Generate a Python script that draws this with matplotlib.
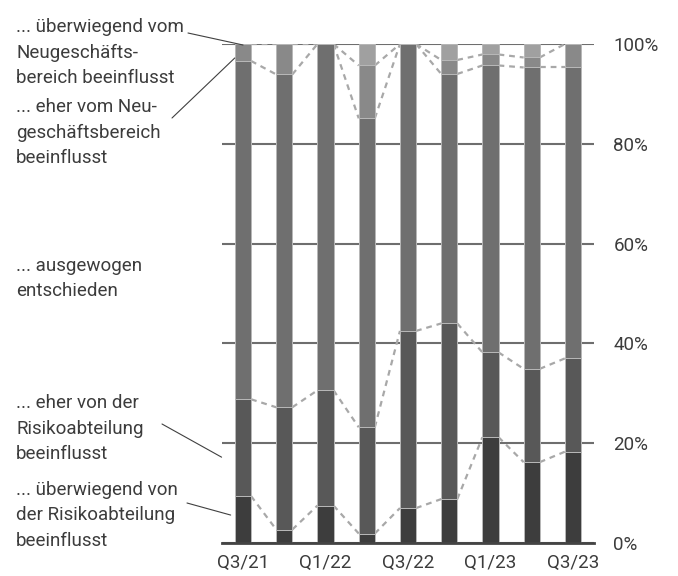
import matplotlib.pyplot as plt
import numpy as np

quarters = ['Q3/21', 'Q4/21', 'Q1/22', 'Q2/22', 'Q3/22', 'Q4/22', 'Q1/23', 'Q2/23', 'Q3/23']
shown_ticks = ['Q3/21', 'Q1/22', 'Q3/22', 'Q1/23', 'Q3/23']

# shares in percent, bottom to top
risk_strong = [9.4, 2.7, 7.5, 1.9, 7.0, 8.8, 21.2, 16.2, 18.3]
risk_rather = [19.4, 24.5, 23.1, 21.3, 35.5, 35.2, 17.0, 18.7, 18.7]
balanced = [67.8, 66.7, 69.4, 61.9, 57.5, 50.0, 57.5, 60.4, 58.3]
business_rather = [3.4, 6.1, 0.0, 10.6, 0.0, 2.8, 2.2, 2.0, 4.7]
business_strong = [0.0, 0.0, 0.0, 4.3, 0.0, 3.2, 2.1, 2.7, 0.0]

series = [risk_strong, risk_rather, balanced, business_rather, business_strong]
colors = ['#3d3d3d', '#585858', '#6f6f6f', '#898989', '#a0a0a0']

labels = [
    ("... überwiegend vom\nNeugeschäfts-\nbereich beeinflusst", 32, (188, 33), (0, 99.8)),
    ("... eher vom Neu-\ngeschäftsbereich\nbeeinflusst", 112, (172, 118), (-0.2, 97.2)),
    ("... ausgewogen\nentschieden", 271, None, None),
    ("... eher von der\nRisikoabteilung\nbeeinflusst", 408, (162, 424), (-0.52, 17.2)),
    ("... überwiegend von\nder Risikoabteilung\nbeeinflusst", 495, (187, 503), (-0.3, 5.6)),
]

W, H = 678, 576
txt_color = '#3c3c3c'
font = 'Roboto'

fig = plt.figure(figsize=(W / 100, H / 100), dpi=100)
ax = fig.add_axes([222 / W, 33 / H, 372 / W, 499 / H])

x = np.arange(len(quarters))
bw = 0.39
bottom = np.zeros(len(quarters))
tops = []
for vals, c in zip(series, colors):
    vals = np.array(vals)
    ax.bar(x, vals, bw, bottom=bottom, color=c, edgecolor='#b8b8b8', linewidth=0.7, zorder=3)
    bottom = bottom + vals
    tops.append(bottom.copy())

# dashed connectors between neighbouring bars
for lvl in tops[:4]:
    for i in range(len(x) - 1):
        ax.plot([x[i] + bw / 2, x[i + 1] - bw / 2], [lvl[i], lvl[i + 1]],
                color='#a8a8a8', lw=1.6, linestyle=(0, (2.6, 2.2)), zorder=2)

ax.set_xlim(-0.51, 8.51)
ax.set_ylim(0, 100)
ax.set_yticks([0, 20, 40, 60, 80, 100])
ax.set_yticklabels([f'{v}%' for v in [0, 20, 40, 60, 80, 100]])
ax.yaxis.tick_right()
ax.set_xticks([quarters.index(q) for q in shown_ticks])
ax.set_xticklabels(shown_ticks)
ax.tick_params(axis='both', length=0, labelsize=13.5, labelcolor=txt_color)
ax.tick_params(axis='y', pad=14)
ax.tick_params(axis='x', pad=8)
for t in ax.get_xticklabels() + ax.get_yticklabels():
    t.set_fontfamily(font)

ax.grid(axis='y', color='#6e6e6e', lw=1.5, zorder=1)
ax.set_axisbelow(True)
for s in ['top', 'left', 'right']:
    ax.spines[s].set_visible(False)
ax.spines['bottom'].set_color('#444444')
ax.spines['bottom'].set_linewidth(2)
ax.spines['bottom'].set_zorder(4)

for text, base, start, target in labels:
    for k, line in enumerate(text.split('\n')):
        fig.text(16 / W, 1 - (base + 25.5 * k) / H, line, fontsize=13.5, family=font,
                 color=txt_color, va='baseline', ha='left')
    if start is not None:
        ax.annotate('', xy=target, xycoords='data',
                    xytext=(start[0], H - start[1]), textcoords='figure pixels',
                    arrowprops=dict(arrowstyle='-', color='#404040', lw=0.8,
                                    shrinkA=0, shrinkB=0),
                    annotation_clip=False)

fig.savefig('out.png', dpi=100)
